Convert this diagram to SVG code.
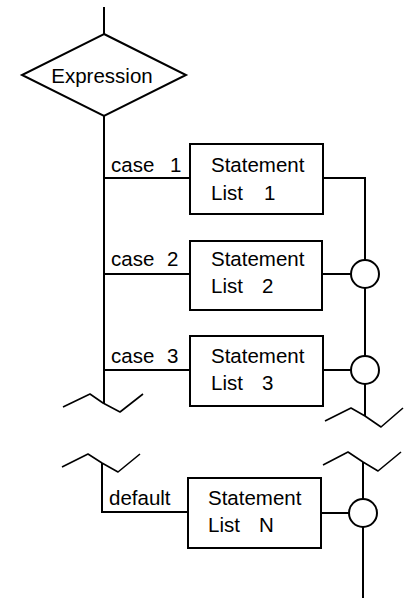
<svg xmlns="http://www.w3.org/2000/svg" width="406" height="598" viewBox="0 0 406 598">
<style>
.ln{fill:none;stroke:#000;stroke-width:2}
.zz{fill:none;stroke:#000;stroke-width:1.6;stroke-linejoin:round}
.bx{fill:#fff;stroke:#000;stroke-width:2}
.jn{fill:#fff;stroke:#000;stroke-width:2}
text{font-family:"Liberation Sans",Arial,sans-serif;font-size:20.5px;fill:#000}
</style>
<rect width="406" height="598" fill="#fff"/>
<g id="connectors">
<line class="ln" x1="104" y1="7" x2="104" y2="34"/>
<line class="ln" x1="104" y1="116" x2="104" y2="403"/>
<line class="ln" x1="104" y1="178" x2="190" y2="178"/>
<line class="ln" x1="104" y1="274" x2="190" y2="274"/>
<line class="ln" x1="104" y1="370" x2="190" y2="370"/>
<polyline class="ln" points="323,178 365,178 365,260"/>
<line class="ln" x1="322" y1="274" x2="351" y2="274"/>
<line class="ln" x1="365" y1="288" x2="365" y2="356"/>
<line class="ln" x1="323" y1="370" x2="351" y2="370"/>
<line class="ln" x1="365" y1="384" x2="365" y2="416"/>
<polyline class="ln" points="102,463 102,512 188,512"/>
<line class="ln" x1="321" y1="513" x2="349" y2="513"/>
<line class="ln" x1="363" y1="462" x2="363" y2="499"/>
<line class="ln" x1="363" y1="527" x2="363" y2="598"/>
<polyline class="zz" points="63,407 90,394 103,403 120,412 143,394"/>
<polyline class="zz" points="325,421 351,408 365,416 381,427 403,408"/>
<polyline class="zz" points="62,467 88,454 102,463 118,472 140,454"/>
<polyline class="zz" points="323,465 348,452 363,462 378,471 401,452"/>
</g>
<g id="expression">
<polygon class="bx" points="104,34 186,75 104,116 22,75"/>
<text x="102" y="83" text-anchor="middle">Expression</text>
</g>
<g id="case1">
<text x="111" y="172">case<tspan x="170">1</tspan></text>
<rect class="bx" x="190" y="144" width="133" height="70"/>
<text x="211" y="172">Statement</text>
<text x="211" y="200">List<tspan x="264">1</tspan></text>
</g>
<g id="case2">
<text x="111" y="266">case<tspan x="167">2</tspan></text>
<rect class="bx" x="190" y="241" width="132" height="69"/>
<text x="211" y="266">Statement</text>
<text x="211" y="293">List<tspan x="262">2</tspan></text>
</g>
<g id="case3">
<text x="111" y="363">case<tspan x="167">3</tspan></text>
<rect class="bx" x="190" y="336" width="133" height="70"/>
<text x="211" y="363">Statement</text>
<text x="211" y="390">List<tspan x="262">3</tspan></text>
</g>
<g id="default">
<text x="109" y="505">default</text>
<rect class="bx" x="188" y="478" width="133" height="70"/>
<text x="208" y="505">Statement</text>
<text x="208" y="532">List<tspan x="259">N</tspan></text>
</g>
<g id="join2"><circle class="jn" cx="365" cy="274" r="14"/></g>
<g id="join3"><circle class="jn" cx="365" cy="370" r="14"/></g>
<g id="joinN"><circle class="jn" cx="363" cy="513" r="14"/></g>
</svg>
